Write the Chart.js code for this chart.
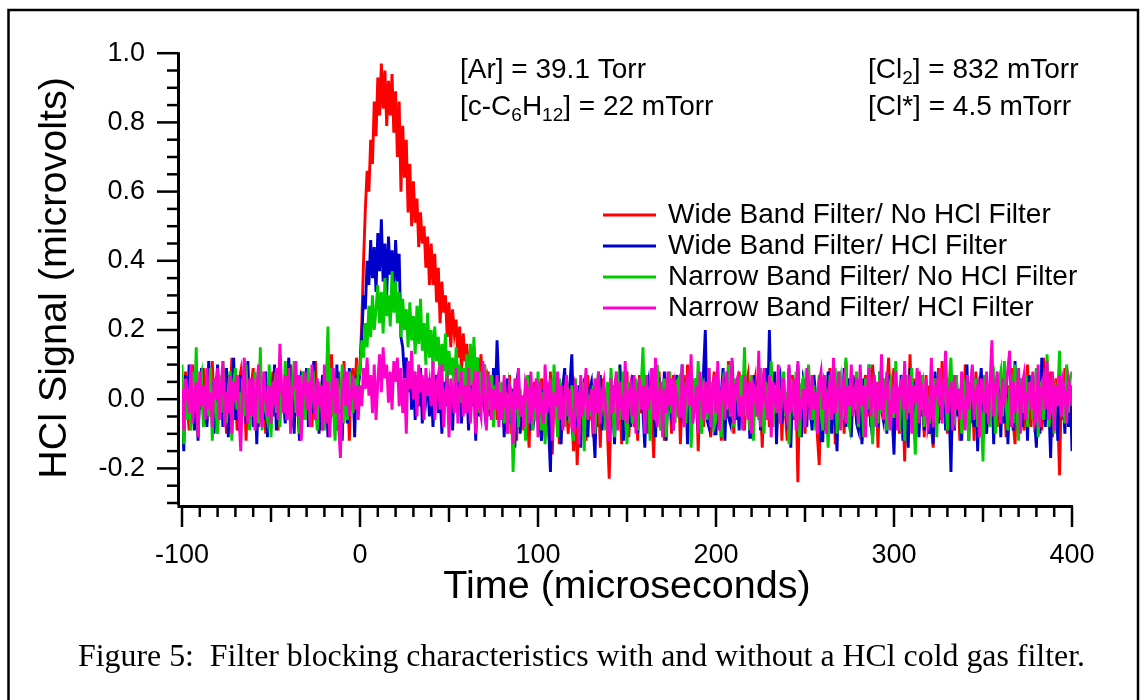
<!DOCTYPE html>
<html>
<head>
<meta charset="utf-8">
<title>Figure 5</title>
<script src="https://cdn.jsdelivr.net/npm/chart.js@4.4.1/dist/chart.umd.min.js"></script>
<style>
  html, body { margin: 0; padding: 0; background: #fff; }
  #wrap { width: 1146px; height: 700px; }
</style>
</head>
<body>
<div id="wrap"><canvas id="fig" width="1146" height="700"></canvas></div>
<script>
// --- data (HCl signal in microvolts, one sample per us from -100 us) ---
const timeStart = -100;
const timeStep = 1;

const wideNoFilter = [
  0.04, -0.06, 0.08, -0.02, -0.09, 0.05, 0.10, -0.04, 0.03, -0.11, 0.06, -0.03, 0.09, 0.01, -0.07, 0.04, -0.05, 0.11, -0.02, 0.06,
  -0.08, 0.03, -0.04, 0.09, 0.02, -0.10, 0.07, -0.03, 0.12, -0.06, 0.01, -0.09, 0.05, 0.08, -0.04, 0.03, -0.12, 0.06, -0.01, 0.04,
  0.09, -0.05, 0.02, -0.08, 0.11, -0.03, 0.06, -0.10, 0.04, 0.00, -0.07, 0.08, -0.04, 0.05, -0.09, 0.12, -0.02, 0.03, -0.06, 0.07,
  -0.03, 0.10, -0.08, 0.04, -0.01, 0.07, -0.11, 0.05, 0.02, -0.06, 0.09, -0.04, 0.06, -0.08, 0.03, 0.11, -0.05, 0.01, -0.09, 0.06,
  0.02, -0.07, 0.10, -0.03, 0.13, -0.05, 0.04, -0.09, 0.08, 0.01, -0.06, 0.11, -0.02, 0.07, -0.12, 0.05, 0.09, -0.03, 0.12, 0.03,
  0.10, 0.22, 0.40, 0.55, 0.66, 0.60, 0.75, 0.68, 0.86, 0.76, 0.93, 0.82, 0.97, 0.84, 0.95, 0.79, 0.92, 0.82, 0.94, 0.77,
  0.89, 0.70, 0.86, 0.60, 0.79, 0.64, 0.75, 0.54, 0.68, 0.50, 0.63, 0.51, 0.58, 0.44, 0.54, 0.45, 0.50, 0.38, 0.47, 0.33,
  0.45, 0.33, 0.42, 0.28, 0.38, 0.22, 0.34, 0.25, 0.30, 0.18, 0.28, 0.15, 0.26, 0.19, 0.23, 0.12, 0.21, 0.08, 0.19, 0.11,
  0.16, 0.05, 0.14, 0.09, 0.15, 0.03, 0.12, 0.07, 0.13, -0.02, 0.10, 0.04, 0.08, -0.05, 0.07, 0.01, 0.09, -0.06, 0.05, -0.03,
  0.04, -0.08, 0.02, -0.05, 0.07, -0.10, 0.03, -0.02, -0.12, 0.05, -0.06, 0.01, -0.09, 0.06, -0.04, -0.14, 0.03, -0.07, 0.05, -0.02,
  0.02, -0.10, 0.06, -0.04, -0.11, 0.03, -0.07, 0.08, -0.16, 0.01, -0.05, 0.04, -0.13, 0.02, -0.08, 0.06, -0.03, -0.10, 0.05, -0.06,
  -0.15, 0.03, -0.19, -0.04, 0.05, -0.09, 0.02, -0.12, 0.07, -0.06, -0.02, -0.11, 0.04, -0.08, 0.01, -0.14, 0.06, -0.05, 0.02, -0.09,
  -0.23, -0.03, 0.04, -0.10, 0.06, -0.07, 0.01, -0.13, 0.03, -0.05, 0.08, -0.11, -0.02, 0.05, -0.08, 0.02, -0.12, 0.07, -0.04, 0.03,
  -0.07, 0.05, -0.10, 0.02, -0.04, -0.17, 0.04, -0.06, 0.08, -0.09, 0.01, -0.12, 0.06, -0.03, 0.03, -0.10, 0.07, -0.05, -0.01, 0.04,
  -0.13, 0.02, 0.07, -0.06, 0.10, -0.03, -0.09, 0.05, -0.02, 0.04, -0.15, 0.01, 0.06, -0.08, 0.03, -0.05, 0.09, -0.11, 0.02, 0.08,
  -0.08, 0.04, -0.03, -0.12, 0.06, 0.01, -0.05, 0.11, -0.07, 0.02, -0.10, 0.05, -0.01, 0.08, -0.06, 0.03, -0.09, 0.04, 0.07, -0.04,
  -0.11, 0.03, 0.06, -0.05, 0.09, -0.02, -0.14, 0.04, -0.06, 0.02, -0.08, 0.10, -0.03, 0.05, -0.09, 0.01, 0.06, -0.12, 0.03, -0.04,
  -0.12, 0.05, -0.02, 0.07, -0.06, 0.01, -0.24, 0.03, -0.08, 0.06, -0.10, 0.02, 0.08, -0.04, 0.04, -0.07, 0.01, -0.11, -0.19, 0.03,
  0.05, -0.09, 0.02, -0.05, 0.09, -0.03, 0.06, -0.13, 0.01, 0.08, -0.06, 0.03, -0.10, 0.11, -0.02, 0.04, -0.08, 0.07, -0.04, 0.02,
  -0.09, 0.06, -0.12, 0.03, 0.07, -0.05, 0.02, -0.08, 0.10, -0.03, 0.05, -0.14, 0.04, -0.01, 0.06, -0.07, 0.03, 0.12, -0.04, 0.05,
  0.09, -0.06, 0.03, -0.10, 0.05, -0.02, -0.18, 0.04, -0.07, 0.13, -0.03, 0.06, -0.09, 0.02, 0.08, -0.05, 0.01, -0.11, 0.07, -0.04,
  0.04, -0.08, -0.14, 0.06, -0.03, 0.09, -0.06, 0.11, -0.02, 0.03, -0.10, 0.05, -0.01, -0.08, 0.07, -0.04, 0.02, -0.12, 0.06, -0.05,
  0.10, -0.03, 0.05, -0.07, 0.02, -0.12, 0.08, -0.04, 0.03, -0.09, 0.06, -0.01, -0.10, 0.04, -0.05, 0.09, -0.02, 0.01, -0.08, 0.05,
  0.07, -0.06, 0.02, -0.11, 0.04, -0.03, 0.09, -0.07, -0.13, 0.03, 0.05, -0.02, 0.06, -0.09, 0.01, 0.10, -0.04, -0.08, 0.04, -0.01,
  0.03, -0.07, 0.06, -0.09, 0.12, -0.02, 0.05, -0.05, 0.08, -0.11, 0.02, 0.06, -0.04, -0.22, 0.03, -0.06, 0.09, -0.03, 0.04, -0.08,
  0.02
];

const wideHclFilter = [
  -0.03, -0.15, 0.07, -0.06, 0.10, -0.02, 0.04, -0.09, 0.06, -0.12, 0.03, 0.09, -0.05, 0.01, -0.08, 0.11, -0.03, 0.05, -0.10, 0.02,
  0.10, -0.04, 0.06, -0.08, 0.02, 0.09, -0.11, 0.04, -0.02, 0.12, -0.06, 0.03, -0.09, 0.07, -0.01, 0.05, -0.07, 0.11, -0.04, 0.01,
  -0.08, 0.06, -0.13, 0.03, 0.09, -0.02, -0.06, 0.08, -0.11, 0.04, 0.01, -0.05, 0.10, -0.09, 0.03, 0.07, -0.04, 0.02, -0.07, 0.05,
  0.12, -0.03, 0.04, -0.10, 0.06, 0.00, -0.12, 0.08, -0.05, 0.03, 0.09, -0.08, 0.02, -0.04, 0.11, -0.06, 0.05, -0.10, 0.01, 0.07,
  -0.06, 0.04, -0.11, 0.08, -0.02, 0.05, -0.09, 0.10, -0.04, 0.02, -0.12, 0.06, 0.03, -0.07, 0.09, -0.03, 0.05, -0.11, 0.07, 0.04,
  0.08, 0.18, 0.30, 0.26, 0.40, 0.33, 0.46, 0.35, 0.44, 0.31, 0.48, 0.37, 0.52, 0.34, 0.45, 0.30, 0.47, 0.36, 0.43, 0.32,
  0.46, 0.34, 0.42, 0.18, 0.15, 0.06, 0.12, 0.02, 0.10, -0.03, 0.08, -0.06, 0.05, -0.02, 0.09, -0.07, 0.04, 0.00, 0.06, -0.05,
  0.06, -0.08, 0.03, 0.07, -0.04, 0.02, -0.10, 0.05, -0.02, 0.09, -0.06, 0.01, -0.09, 0.04, 0.08, -0.03, 0.05, -0.07, 0.02, -0.04,
  0.03, -0.09, 0.06, -0.02, 0.07, -0.12, 0.04, -0.05, 0.01, 0.10, -0.03, -0.08, 0.05, 0.02, -0.06, 0.09, -0.01, 0.17, 0.04, -0.03,
  0.04, -0.11, 0.02, 0.06, -0.07, 0.03, -0.04, -0.14, 0.05, 0.08, -0.10, 0.01, -0.06, 0.03, -0.02, 0.07, -0.09, 0.02, -0.05, -0.01,
  0.05, -0.08, -0.12, 0.03, -0.04, 0.02, -0.09, -0.21, 0.06, -0.03, 0.07, -0.10, 0.01, -0.13, 0.04, 0.09, -0.06, -0.02, 0.05, 0.13,
  -0.05, 0.02, -0.08, 0.04, -0.14, 0.01, 0.06, -0.04, -0.11, 0.03, 0.05, -0.07, -0.17, 0.02, -0.03, 0.07, -0.09, 0.01, -0.06, 0.04,
  -0.09, 0.06, -0.02, -0.13, 0.03, -0.05, 0.10, -0.01, -0.12, 0.04, -0.07, 0.02, -0.08, 0.07, -0.03, 0.05, -0.10, 0.01, 0.06, -0.04,
  -0.14, 0.02, 0.05, -0.06, 0.09, -0.02, -0.11, 0.04, 0.05, -0.08, -0.03, 0.08, -0.12, 0.01, 0.06, -0.05, -0.09, 0.03, 0.07, -0.02,
  -0.04, 0.10, -0.07, 0.03, -0.13, 0.01, 0.07, -0.05, -0.02, 0.06, -0.09, 0.04, -0.03, 0.08, 0.20, -0.06, -0.08, 0.02, 0.04, -0.10,
  -0.10, 0.06, -0.03, 0.02, 0.09, -0.12, 0.04, -0.05, -0.07, 0.11, 0.01, -0.06, 0.03, -0.09, 0.05, -0.02, 0.08, -0.04, 0.02, -0.11,
  -0.11, 0.07, -0.04, 0.03, 0.05, -0.09, 0.01, -0.06, 0.09, -0.03, 0.20, -0.05, -0.02, 0.08, -0.13, 0.03, 0.06, -0.07, 0.01, -0.04,
  -0.07, 0.09, -0.14, 0.02, 0.04, -0.05, 0.10, -0.02, -0.11, 0.05, 0.02, -0.08, 0.06, -0.03, -0.09, 0.07, 0.01, -0.06, 0.03, -0.12,
  -0.12, 0.05, -0.03, 0.08, 0.01, -0.10, 0.04, -0.06, -0.15, 0.07, 0.02, -0.04, 0.09, -0.08, -0.02, 0.06, -0.11, 0.03, 0.05, -0.07,
  -0.09, 0.03, -0.13, 0.06, 0.01, -0.04, 0.10, -0.07, -0.11, 0.05, 0.02, -0.08, 0.08, -0.03, -0.06, 0.04, -0.10, 0.07, 0.00, -0.05,
  -0.16, 0.04, -0.02, -0.08, 0.07, -0.12, 0.02, -0.05, -0.14, 0.09, -0.03, 0.05, -0.07, 0.06, -0.11, 0.01, 0.04, -0.09, 0.03, -0.06,
  -0.10, 0.03, -0.13, 0.08, -0.02, -0.07, 0.05, -0.04, 0.02, -0.09, 0.06, -0.03, -0.21, 0.04, -0.09, 0.07, -0.05, 0.01, -0.12, 0.05,
  -0.06, 0.10, -0.12, 0.04, -0.03, -0.08, 0.06, -0.15, 0.02, 0.09, -0.04, 0.07, -0.10, 0.01, -0.06, 0.05, -0.13, 0.03, -0.02, 0.07,
  -0.11, 0.05, -0.07, 0.08, -0.13, 0.02, 0.03, -0.09, 0.11, -0.05, 0.01, 0.06, -0.08, -0.02, 0.04, -0.12, 0.07, -0.03, 0.02, -0.06,
  -0.14, 0.04, -0.10, 0.12, -0.03, -0.08, 0.07, -0.02, -0.17, 0.05, -0.06, 0.03, -0.12, 0.09, -0.04, 0.01, -0.10, 0.06, -0.08, 0.04,
  -0.15
];

const narrowNoFilter = [
  0.10, -0.13, 0.05, -0.06, 0.02, -0.09, 0.08, -0.03, 0.15, -0.11, 0.04, 0.07, -0.08, 0.01, 0.06, -0.05, 0.09, -0.12, 0.03, -0.02,
  -0.10, 0.07, -0.04, 0.11, -0.01, -0.07, 0.03, 0.08, -0.12, 0.05, 0.09, -0.03, 0.02, -0.08, 0.06, -0.05, 0.10, -0.02, -0.09, 0.04,
  -0.05, 0.08, 0.01, -0.07, 0.15, -0.09, 0.04, -0.03, -0.06, 0.10, -0.11, 0.02, 0.05, -0.04, 0.07, -0.08, 0.03, -0.02, 0.11, -0.06,
  0.07, -0.08, 0.02, 0.11, -0.04, 0.05, -0.10, 0.03, 0.08, -0.06, -0.01, 0.09, -0.07, 0.04, 0.06, -0.03, -0.09, 0.05, 0.01, -0.05,
  -0.09, 0.03, 0.21, -0.05, 0.09, -0.02, -0.12, 0.06, 0.02, -0.03, 0.10, -0.07, 0.04, -0.06, 0.08, 0.01, -0.04, 0.06, -0.02, 0.09,
  0.08, 0.17, 0.12, 0.22, 0.15, 0.27, 0.18, 0.30, 0.20, 0.26, 0.33, 0.22, 0.31, 0.19, 0.35, 0.24, 0.30, 0.21, 0.37, 0.25,
  0.34, 0.22, 0.31, 0.18, 0.29, 0.20, 0.26, 0.15, 0.28, 0.17, 0.24, 0.13, 0.27, 0.16, 0.29, 0.14, 0.22, 0.10, 0.25, 0.12,
  0.20, 0.09, 0.21, 0.11, 0.18, 0.06, 0.16, 0.08, 0.19, 0.04, 0.14, 0.07, 0.12, 0.02, 0.15, 0.05, 0.10, -0.01, 0.09, 0.03,
  0.13, -0.02, 0.16, 0.04, 0.18, 0.01, 0.12, -0.04, 0.08, 0.02, 0.10, -0.05, 0.06, -0.03, 0.07, -0.08, 0.04, -0.02, 0.05, -0.06,
  0.05, -0.07, 0.02, -0.10, 0.04, 0.01, -0.21, -0.03, 0.06, -0.08, 0.03, -0.05, 0.01, -0.12, 0.07, -0.02, 0.04, -0.09, 0.02, -0.06,
  0.08, -0.04, -0.09, 0.02, -0.13, 0.05, -0.02, 0.03, -0.06, 0.10, -0.01, -0.11, 0.06, 0.03, -0.04, -0.08, 0.05, 0.01, -0.07, 0.04,
  -0.12, 0.06, -0.03, -0.08, 0.02, 0.05, -0.15, 0.07, -0.04, 0.01, -0.05, 0.04, -0.10, 0.03, 0.08, -0.06, -0.02, 0.01, -0.09, 0.05,
  -0.07, 0.09, -0.02, -0.11, 0.03, 0.06, -0.06, 0.02, 0.08, -0.04, -0.13, 0.05, 0.01, -0.07, -0.02, 0.06, -0.09, 0.03, 0.04, 0.15,
  -0.08, 0.04, 0.01, -0.12, 0.07, -0.03, -0.05, 0.10, -0.01, -0.09, 0.02, 0.06, -0.11, 0.03, 0.08, -0.04, 0.02, -0.07, 0.05, 0.06,
  -0.04, 0.09, -0.01, -0.07, 0.03, 0.05, -0.14, -0.03, 0.06, -0.02, 0.11, -0.05, -0.10, 0.04, 0.02, -0.06, 0.08, -0.03, 0.05, -0.08,
  -0.06, 0.08, -0.02, -0.11, 0.04, 0.01, -0.03, 0.10, -0.05, 0.03, -0.08, 0.06, 0.02, -0.04, 0.07, -0.01, 0.15, -0.05, 0.03, -0.09,
  0.07, -0.12, 0.02, 0.03, -0.06, 0.09, -0.02, -0.10, 0.05, 0.01, -0.04, 0.11, -0.08, 0.04, -0.03, 0.06, -0.07, 0.02, 0.08, -0.05,
  0.02, -0.13, 0.06, 0.01, -0.05, 0.08, -0.02, -0.11, 0.04, 0.06, -0.07, 0.03, 0.10, -0.02, -0.06, 0.04, -0.09, 0.01, 0.07, -0.04,
  -0.09, 0.05, -0.02, -0.14, 0.07, 0.02, -0.04, 0.09, -0.10, 0.03, 0.06, -0.06, 0.01, 0.12, -0.05, -0.08, 0.04, 0.02, -0.03, 0.08,
  -0.08, 0.04, 0.01, -0.11, 0.06, -0.03, 0.10, -0.02, -0.13, 0.05, 0.03, -0.07, 0.08, -0.04, 0.01, 0.06, -0.09, 0.02, 0.05, -0.05,
  -0.05, 0.11, -0.03, -0.09, 0.03, 0.06, -0.12, 0.07, -0.04, 0.02, 0.09, -0.06, -0.16, 0.05, 0.01, -0.03, 0.07, -0.08, 0.04, -0.02,
  -0.07, 0.10, -0.01, 0.06, -0.11, 0.03, 0.08, -0.05, 0.02, 0.04, -0.09, 0.05, 0.12, -0.04, -0.06, 0.07, -0.02, 0.03, -0.10, 0.06,
  -0.06, 0.05, -0.12, 0.02, 0.09, -0.03, 0.06, -0.08, 0.01, -0.05, -0.18, 0.07, -0.04, 0.04, -0.08, 0.03, 0.06, -0.10, 0.02, 0.05,
  0.08, -0.05, 0.11, -0.02, -0.09, 0.03, 0.05, -0.07, 0.10, -0.03, -0.12, 0.06, 0.02, -0.04, 0.07, -0.08, 0.01, 0.04, -0.06, 0.03,
  0.09, -0.11, 0.04, 0.05, -0.06, 0.02, 0.13, -0.08, -0.03, 0.06, -0.10, 0.03, 0.01, 0.14, -0.05, 0.02, -0.07, 0.10, -0.04, 0.06,
  0.08
];

const narrowHclFilter = [
  0.03, -0.09, 0.06, 0.02, -0.04, 0.10, -0.07, 0.01, 0.05, -0.11, 0.08, -0.02, 0.04, -0.06, 0.09, -0.03, 0.02, -0.08, 0.06, 0.00,
  0.09, -0.06, 0.03, 0.11, -0.08, 0.02, -0.04, 0.07, -0.10, 0.05, 0.01, 0.07, -0.05, -0.15, 0.03, 0.12, -0.02, -0.07, 0.06, -0.05,
  0.06, -0.09, 0.02, 0.10, -0.04, -0.08, 0.08, 0.01, -0.05, 0.04, -0.07, 0.05, -0.02, 0.09, -0.06, 0.16, 0.03, -0.04, 0.07, -0.06,
  0.09, -0.10, 0.02, 0.04, 0.11, -0.05, 0.07, -0.12, 0.03, 0.08, -0.03, 0.05, -0.08, 0.10, 0.01, -0.06, 0.06, -0.02, 0.04, -0.09,
  0.10, -0.07, 0.05, -0.11, 0.02, 0.09, -0.04, 0.06, -0.08, -0.17, 0.03, 0.06, -0.02, 0.08, -0.05, 0.01, 0.07, -0.03, 0.04, -0.06,
  0.04, -0.02, 0.09, 0.03, 0.12, 0.01, 0.07, -0.04, 0.10, -0.06, 0.05, 0.13, 0.02, 0.15, 0.06, 0.10, -0.01, 0.08, -0.03, 0.11,
  0.05, 0.12, -0.02, 0.09, -0.04, 0.06, -0.10, 0.11, 0.03, 0.14, 0.00, 0.08, -0.05, 0.10, 0.02, 0.07, -0.06, 0.09, 0.01, 0.05,
  -0.02, 0.11, -0.06, 0.04, 0.07, -0.03, 0.10, -0.08, 0.02, 0.05, -0.11, 0.06, 0.01, -0.04, 0.09, -0.07, 0.03, 0.08, -0.05, 0.04,
  -0.04, 0.09, -0.07, 0.02, 0.05, -0.10, 0.08, -0.02, -0.05, 0.11, 0.01, -0.09, 0.06, 0.04, -0.06, 0.03, -0.03, 0.07, -0.08, 0.02,
  -0.06, 0.07, -0.02, -0.10, 0.04, 0.02, -0.13, 0.06, -0.03, 0.09, -0.05, 0.01, -0.08, 0.05, 0.03, -0.07, 0.08, -0.04, -0.01, 0.06,
  -0.11, 0.05, -0.03, -0.07, 0.10, -0.04, 0.03, 0.06, -0.12, 0.02, -0.02, 0.08, -0.06, 0.04, -0.09, 0.01, 0.07, -0.05, 0.03, -0.08,
  -0.09, 0.04, 0.02, -0.13, 0.07, -0.05, 0.01, 0.09, -0.06, -0.02, 0.03, -0.10, 0.06, -0.04, 0.08, -0.07, 0.02, 0.05, -0.03, -0.08,
  -0.12, 0.06, -0.04, 0.03, 0.08, -0.09, 0.05, -0.02, -0.06, 0.11, -0.07, 0.01, 0.04, -0.05, 0.07, -0.10, 0.02, 0.06, -0.03, 0.04,
  -0.10, 0.07, -0.03, 0.02, 0.09, -0.06, 0.12, -0.08, 0.01, 0.05, -0.11, 0.03, -0.04, 0.08, -0.02, 0.06, -0.09, 0.04, 0.01, -0.05,
  -0.05, 0.10, -0.08, 0.03, 0.06, -0.02, 0.13, -0.07, -0.03, 0.04, -0.10, 0.08, 0.02, -0.06, 0.05, -0.04, 0.09, -0.08, 0.03, 0.07,
  -0.04, 0.11, -0.09, 0.02, 0.05, -0.06, 0.08, -0.01, -0.03, 0.12, -0.07, 0.04, 0.06, -0.05, 0.01, -0.09, 0.07, 0.03, -0.06, 0.05,
  -0.10, 0.04, 0.02, -0.05, 0.14, -0.08, 0.03, 0.09, -0.02, -0.06, 0.07, -0.11, 0.05, 0.01, -0.04, 0.10, -0.07, 0.02, 0.06, -0.03,
  -0.06, 0.10, -0.04, 0.01, 0.06, -0.09, 0.11, -0.05, -0.02, 0.03, -0.08, 0.09, 0.04, -0.06, 0.07, -0.03, 0.02, -0.10, 0.05, 0.08,
  -0.03, 0.07, -0.10, 0.02, 0.05, -0.06, 0.12, -0.04, 0.01, 0.08, -0.09, 0.03, 0.06, -0.07, 0.04, -0.02, 0.10, -0.05, 0.01, 0.06,
  -0.07, 0.10, -0.02, 0.04, -0.11, 0.03, 0.09, -0.05, 0.02, 0.07, -0.08, 0.05, -0.03, 0.13, -0.06, 0.01, 0.08, -0.04, -0.09, 0.04,
  -0.04, 0.08, -0.09, 0.03, 0.05, -0.03, 0.11, -0.06, 0.02, 0.07, -0.10, 0.04, -0.01, 0.09, -0.07, 0.05, 0.02, -0.05, 0.06, -0.08,
  -0.05, 0.12, -0.08, 0.02, 0.06, -0.02, 0.09, -0.07, 0.04, 0.14, -0.04, 0.01, 0.05, -0.09, 0.07, -0.03, 0.03, -0.06, 0.08, -0.02,
  -0.09, 0.07, -0.03, 0.04, 0.10, -0.06, 0.02, 0.04, -0.11, 0.06, 0.01, -0.04, 0.08, -0.07, 0.05, 0.17, -0.05, 0.03, 0.08, -0.02,
  -0.07, 0.06, -0.02, 0.03, 0.09, 0.14, -0.08, 0.05, -0.04, 0.02, 0.09, -0.10, 0.04, 0.07, -0.06, 0.01, 0.05, -0.03, 0.08, -0.07,
  -0.05, 0.10, -0.08, 0.03, 0.06, -0.03, 0.11, -0.06, 0.01, 0.08, -0.09, 0.04, -0.02, 0.07, -0.05, 0.05, 0.02, -0.07, 0.06, 0.03,
  -0.02
];

const seriesLabels = [
  'Wide Band Filter/ No HCl Filter',
  'Wide Band Filter/ HCl Filter',
  'Narrow Band Filter/ No HCl Filter',
  'Narrow Band Filter/ HCl Filter'
];
const seriesColors = ['#ff0000', '#0000cc', '#00cc00', '#ff00cc'];

const xTicks = [-100, 0, 100, 200, 300, 400];
const yTicks = [-0.2, 0.0, 0.2, 0.4, 0.6, 0.8, 1.0];

function toPoints(arr) {
  return arr.map((v, i) => ({ x: timeStart + i * timeStep, y: v }));
}

const allSeries = [wideNoFilter, wideHclFilter, narrowNoFilter, narrowHclFilter];

// magenta drawn on top, red at the bottom
const datasets = allSeries.map((arr, k) => ({
  label: seriesLabels[k],
  data: toPoints(arr),
  borderColor: seriesColors[k],
  borderWidth: 2.9,
  pointRadius: 0,
  tension: 0,
  fill: false,
  order: allSeries.length - k
}));

const SANS = 'Arial, "Liberation Sans", Helvetica, sans-serif';

function drawSub(ctx, parts, x, y) {
  // parts: [text, isSubscript]
  let cx = x;
  parts.forEach(([txt, sub]) => {
    ctx.font = sub ? '19px ' + SANS : '28px ' + SANS;
    ctx.fillText(txt, cx, sub ? y + 6 : y);
    cx += ctx.measureText(txt).width;
  });
}

const decor = {
  id: 'decor',
  afterDraw(chart) {
    const ctx = chart.ctx;
    const xs = chart.scales.x, ys = chart.scales.y;
    ctx.save();
    ctx.strokeStyle = '#000';
    ctx.fillStyle = '#000';
    ctx.lineCap = 'butt';

    // outer frame (open at bottom)
    ctx.lineWidth = 2.5;
    ctx.beginPath();
    ctx.moveTo(8.5, 702); ctx.lineTo(8.5, 10); ctx.lineTo(1138, 10); ctx.lineTo(1138, 702);
    ctx.stroke();

    // y axis
    const yAxisX = 178.5;
    ctx.lineWidth = 3;
    ctx.beginPath();
    ctx.moveTo(yAxisX, ys.getPixelForValue(1.0) - 1);
    ctx.lineTo(yAxisX, ys.getPixelForValue(-0.3) + 2);
    ctx.stroke();
    ctx.lineWidth = 2.5;
    for (let k = -6; k <= 20; k++) {
      const v = k * 0.05;
      const py = ys.getPixelForValue(v);
      const len = (k % 4 === 0) ? 21.5 : 11.5;
      ctx.beginPath();
      ctx.moveTo(yAxisX, py);
      ctx.lineTo(yAxisX - len, py);
      ctx.stroke();
    }

    // x axis
    const xAxisY = 506.5;
    ctx.lineWidth = 3;
    ctx.beginPath();
    ctx.moveTo(yAxisX - 1, xAxisY);
    ctx.lineTo(xs.getPixelForValue(400) + 1, xAxisY);
    ctx.stroke();
    ctx.lineWidth = 2.5;
    for (let v = -100; v <= 400; v += 10) {
      const px = xs.getPixelForValue(v);
      const len = (v % 100 === 0) ? 20.5 : (v % 50 === 0 ? 15.5 : 10.5);
      ctx.beginPath();
      ctx.moveTo(px, xAxisY);
      ctx.lineTo(px, xAxisY + len);
      ctx.stroke();
    }

    // axis titles
    ctx.font = '39.5px ' + SANS;
    ctx.textAlign = 'center';
    ctx.textBaseline = 'alphabetic';
    ctx.fillText('Time (microseconds)', 627, 598);
    ctx.save();
    ctx.translate(66, 278);
    ctx.rotate(-Math.PI / 2);
    ctx.fillText('HCl Signal (microvolts)', 0, 0);
    ctx.restore();

    // condition annotations
    ctx.textAlign = 'left';
    drawSub(ctx, [['[Ar] = 39.1 Torr', false]], 460, 78);
    drawSub(ctx, [['[c-C', false], ['6', true], ['H', false], ['12', true], ['] = 22 mTorr', false]], 460, 115);
    drawSub(ctx, [['[Cl', false], ['2', true], ['] = 832 mTorr', false]], 868, 78);
    drawSub(ctx, [['[Cl*] = 4.5 mTorr', false]], 868, 115);

    // legend
    const legendY = [215, 246, 277, 308];
    ctx.font = '28px ' + SANS;
    ctx.textBaseline = 'middle';
    seriesLabels.forEach((lab, k) => {
      ctx.strokeStyle = seriesColors[k];
      ctx.lineWidth = 2.8;
      ctx.beginPath();
      ctx.moveTo(603, legendY[k]);
      ctx.lineTo(656, legendY[k]);
      ctx.stroke();
      ctx.fillText(lab, 668, legendY[k]);
    });

    // caption
    const cap = 'Figure 5:  Filter blocking characteristics with and without a HCl cold gas filter.';
    ctx.font = '31px "Liberation Serif", "Times New Roman", serif';
    ctx.textBaseline = 'alphabetic';
    ctx.textAlign = 'left';
    const w = ctx.measureText(cap).width;
    ctx.save();
    ctx.translate(78, 666);
    ctx.scale(1007 / w, 1);
    ctx.fillText(cap, 0, 0);
    ctx.restore();

    ctx.restore();
  }
};

new Chart(document.getElementById('fig'), {
  type: 'line',
  data: { datasets: datasets },
  options: {
    responsive: false,
    animation: false,
    devicePixelRatio: 1,
    layout: { padding: { left: 82, right: 74, top: 51, bottom: 97 } },
    plugins: { legend: { display: false }, tooltip: { enabled: false } },
    scales: {
      x: {
        type: 'linear',
        min: -100,
        max: 400,
        grid: { display: false, drawTicks: false },
        border: { display: false },
        afterBuildTicks: s => { s.ticks = xTicks.map(v => ({ value: v })); },
        afterFit: s => { s.height = 100; },
        ticks: {
          autoSkip: false,
          maxRotation: 0,
          padding: 36,
          color: '#000',
          font: { family: SANS, size: 27 },
          callback: v => String(v)
        }
      },
      y: {
        type: 'linear',
        min: -0.3,
        max: 1.0,
        grid: { display: false, drawTicks: false },
        border: { display: false },
        afterBuildTicks: s => { s.ticks = yTicks.map(v => ({ value: v })); },
        afterFit: s => { s.width = 100; },
        ticks: {
          autoSkip: false,
          padding: 37,
          color: '#000',
          font: { family: SANS, size: 27 },
          callback: v => Number(v).toFixed(1)
        }
      }
    }
  },
  plugins: [decor]
});
</script>
</body>
</html>
